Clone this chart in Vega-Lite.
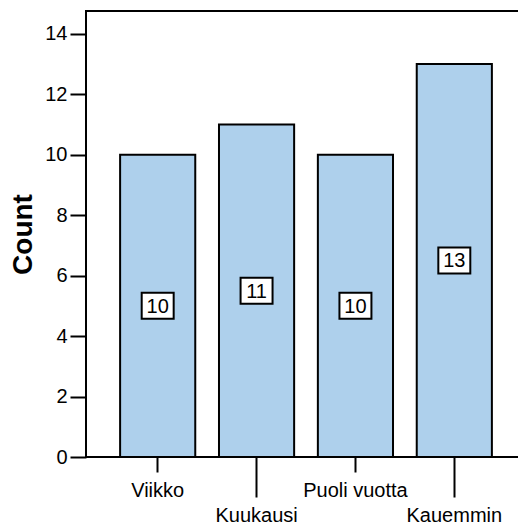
{
  "$schema": "https://vega.github.io/schema/vega-lite/v6.json",
  "width": 440,
  "height": 446,
  "autosize": "none",
  "padding": {"left": 86, "top": 11, "right": 0, "bottom": 66},
  "config": {
    "view": {"stroke": "#000", "strokeWidth": 2},
    "font": "Liberation Sans"
  },
  "data": {
    "values": [
      {"category": "Viikko", "count": 10},
      {"category": "Kuukausi", "count": 11},
      {"category": "Puoli vuotta", "count": 10},
      {"category": "Kauemmin", "count": 13}
    ]
  },
  "transform": [{"calculate": "datum.count / 2", "as": "mid"}],
  "encoding": {
    "x": {
      "field": "category",
      "type": "nominal",
      "sort": null,
      "scale": {"paddingInner": 0.24, "paddingOuter": 0.345},
      "axis": {
        "title": null,
        "labelAngle": 0,
        "domain": false,
        "tickColor": "#000",
        "tickWidth": 2,
        "tickSize": {"condition": {"test": "datum.value === 'Kuukausi' || datum.value === 'Kauemmin'", "value": 40}, "value": 15},
        "labelPadding": 8,
        "labelFontSize": 20,
        "labelColor": "#000",
        "labelOverlap": false,
        "labelBound": false
      }
    }
  },
  "layer": [
    {
      "mark": {"type": "bar", "fill": "#aed0ec", "stroke": "#000", "strokeWidth": 2},
      "encoding": {
        "y": {
          "field": "count",
          "type": "quantitative",
          "scale": {"domain": [0, 14.75], "nice": false},
          "axis": {
            "values": [0, 2, 4, 6, 8, 10, 12, 14],
            "grid": false,
            "domain": false,
            "tickColor": "#000",
            "tickWidth": 2,
            "tickSize": 16,
            "labelFontSize": 20,
            "labelColor": "#000",
            "labelPadding": 3,
            "title": "Count",
            "titleFontSize": 28,
            "titleFontWeight": "bold",
            "titleColor": "#000",
            "titlePadding": 7
          }
        }
      }
    },
    {
      "mark": {"type": "point", "shape": "M-1.23,-1L1.23,-1L1.23,1L-1.23,1Z", "size": 676, "filled": true, "fill": "#fff", "stroke": "#000", "strokeWidth": 2, "opacity": 1},
      "encoding": {"y": {"field": "mid", "type": "quantitative"}}
    },
    {
      "mark": {"type": "text", "fontSize": 20, "color": "#000", "baseline": "middle", "align": "center", "dy": 1},
      "encoding": {"y": {"field": "mid", "type": "quantitative"}, "text": {"field": "count", "type": "quantitative"}}
    }
  ]
}
